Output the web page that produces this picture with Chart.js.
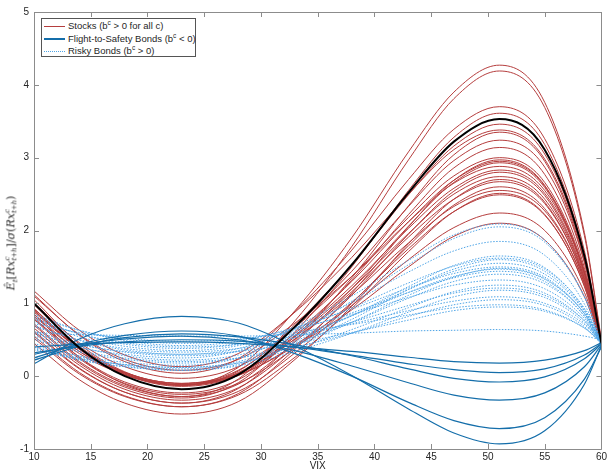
<!DOCTYPE html>
<html>
<head>
<meta charset="utf-8">
<script src="https://cdn.jsdelivr.net/npm/chart.js@4.4.1/dist/chart.umd.min.js"></script>
<style>
  html, body { margin: 0; padding: 0; background: #fff; }
  #wrap { position: relative; width: 609px; height: 473px; font-family: "Liberation Sans", Arial, sans-serif; color: #262626; }
  #ylab { position: absolute; left: 12px; top: 243px; transform: translate(-50%, -50%) rotate(-90deg);
          white-space: nowrap; font-family: "DejaVu Serif", serif; font-size: 11px; }
  #ylab i { font-style: italic; }
  .ss { display: inline-flex; flex-direction: column; vertical-align: middle; font-size: 7px; line-height: 7px; font-style: italic; }
  #legend { position: absolute; left: 41px; top: 18px; width: 153px; height: 37px; border: 1px solid #555; background: #fff; font-size: 9.5px; }
  .row { position: absolute; left: 2px; height: 12px; line-height: 12px; white-space: nowrap; }
  .smp { display: inline-block; width: 21px; vertical-align: middle; margin-right: 3px; }
  .row sup { font-size: 6.5px; vertical-align: 4px; line-height: 0; }
</style>
</head>
<body>
<div id="wrap">
  <canvas id="c" width="609" height="473"></canvas>
  <div id="ylab"><i>Ê</i><sub style="font-size:7px"><i>t</i></sub>[<i>Rx</i><span class="ss"><span>c</span><span>t+h</span></span>]/<i>σ</i>(<i>Rx</i><span class="ss"><span>c</span><span>t+h</span></span>)</div>
  <div id="legend">
    <div class="row" style="top:1px"><span class="smp" style="border-top:1px solid rgb(181,62,62)"></span>Stocks (b<sup>c</sup> &gt; 0 for all c)</div>
    <div class="row" style="top:13.5px"><span class="smp" style="border-top:2px solid rgb(20,110,170)"></span>Flight-to-Safety Bonds (b<sup>c</sup> &lt; 0)</div>
    <div class="row" style="top:26px"><span class="smp" style="border-top:1px dotted rgb(80,165,230)"></span>Risky Bonds (b<sup>c</sup> &gt; 0)</div>
  </div>
</div>
<script>
// VIX sample points (x axis)
const xVix = [10, 14, 18, 23, 28, 33, 38, 43, 47, 51, 55, 58.5, 60];
const xTicks = [10, 15, 20, 25, 30, 35, 40, 45, 50, 55, 60];
const yTicks = [-1, 0, 1, 2, 3, 4, 5];

// highlighted (black) curve
const blackCurve = [1.00, 0.39, 0.00, -0.18, 0.02, 0.68, 1.53, 2.52, 3.22, 3.53, 3.11, 1.65, 0.45];

// stocks (b^c > 0)
const stockCurves = [
  [1.05, 0.44, 0.06, -0.12, 0.12, 0.90, 1.90, 3.08, 3.90, 4.27, 3.76, 1.97, 0.50],
  [0.85, 0.26, -0.11, -0.28, -0.04, 0.76, 1.78, 2.97, 3.81, 4.19, 3.69, 1.93, 0.48],
  [1.12, 0.56, 0.20, 0.04, 0.24, 0.89, 1.73, 2.70, 3.39, 3.70, 3.26, 1.72, 0.45],
  [0.70, 0.18, -0.15, -0.30, -0.09, 0.61, 1.50, 2.55, 3.28, 3.61, 3.18, 1.66, 0.42],
  [0.98, 0.41, 0.05, -0.12, 0.07, 0.71, 1.53, 2.49, 3.16, 3.46, 3.05, 1.63, 0.46],
  [1.17, 0.63, 0.29, 0.13, 0.31, 0.88, 1.63, 2.50, 3.11, 3.38, 2.98, 1.61, 0.47],
  [0.62, 0.11, -0.22, -0.37, -0.17, 0.49, 1.35, 2.34, 3.04, 3.35, 2.95, 1.57, 0.43],
  [0.92, 0.39, 0.05, -0.10, 0.08, 0.68, 1.44, 2.33, 2.96, 3.24, 2.87, 1.56, 0.48],
  [0.80, 0.26, -0.08, -0.23, -0.05, 0.55, 1.32, 2.22, 2.86, 3.14, 2.77, 1.49, 0.44],
  [1.00, 0.46, 0.13, -0.03, 0.13, 0.67, 1.37, 2.18, 2.75, 3.00, 2.66, 1.45, 0.46],
  [0.55, 0.05, -0.27, -0.42, -0.24, 0.37, 1.14, 2.05, 2.69, 2.97, 2.62, 1.41, 0.41],
  [0.90, 0.37, 0.03, -0.12, 0.05, 0.59, 1.30, 2.12, 2.69, 2.95, 2.61, 1.43, 0.45],
  [0.72, 0.20, -0.13, -0.28, -0.11, 0.47, 1.20, 2.06, 2.66, 2.93, 2.59, 1.41, 0.43],
  [1.10, 0.57, 0.23, 0.08, 0.23, 0.73, 1.37, 2.12, 2.65, 2.88, 2.55, 1.42, 0.48],
  [0.85, 0.34, 0.02, -0.13, 0.03, 0.56, 1.24, 2.03, 2.58, 2.83, 2.51, 1.38, 0.46],
  [0.66, 0.15, -0.18, -0.33, -0.16, 0.40, 1.11, 1.95, 2.54, 2.80, 2.48, 1.35, 0.42],
  [0.78, 0.31, 0.02, -0.12, 0.03, 0.54, 1.20, 1.96, 2.50, 2.74, 2.43, 1.34, 0.45],
  [0.45, -0.05, -0.37, -0.52, -0.35, 0.23, 0.96, 1.82, 2.43, 2.70, 2.39, 1.30, 0.40],
  [0.93, 0.37, 0.02, -0.14, 0.01, 0.51, 1.16, 1.91, 2.43, 2.67, 2.37, 1.32, 0.46],
  [0.60, 0.10, -0.22, -0.37, -0.21, 0.32, 1.00, 1.79, 2.35, 2.60, 2.30, 1.27, 0.42],
  [0.88, 0.37, 0.05, -0.10, 0.04, 0.51, 1.12, 1.83, 2.33, 2.55, 2.27, 1.28, 0.47],
  [0.52, 0.03, -0.28, -0.42, -0.26, 0.26, 0.93, 1.71, 2.26, 2.51, 2.22, 1.23, 0.41],
  [0.78, 0.24, -0.10, -0.25, -0.10, 0.39, 1.01, 1.75, 2.26, 2.49, 2.21, 1.24, 0.44],
  [0.90, 0.37, 0.03, -0.12, 0.01, 0.43, 0.97, 1.60, 2.04, 2.24, 2.00, 1.15, 0.46],
  [0.82, 0.34, 0.04, -0.10, 0.02, 0.41, 0.91, 1.50, 1.92, 2.10, 1.87, 1.09, 0.44],
];

// risky bonds (b^c > 0)
const riskyCurves = [
  [0.55, 0.39, 0.30, 0.25, 0.35, 0.68, 1.10, 1.59, 1.94, 2.09, 1.87, 1.09, 0.45],
  [0.42, 0.28, 0.19, 0.15, 0.25, 0.59, 1.03, 1.53, 1.89, 2.05, 1.84, 1.09, 0.47],
  [0.70, 0.49, 0.36, 0.30, 0.38, 0.66, 1.01, 1.43, 1.72, 1.85, 1.66, 0.99, 0.44],
  [0.40, 0.25, 0.16, 0.12, 0.20, 0.48, 0.83, 1.23, 1.52, 1.65, 1.49, 0.92, 0.46],
  [0.75, 0.54, 0.41, 0.35, 0.42, 0.65, 0.94, 1.28, 1.51, 1.62, 1.47, 0.93, 0.48],
  [0.38, 0.22, 0.13, 0.08, 0.16, 0.43, 0.78, 1.19, 1.47, 1.60, 1.44, 0.90, 0.45],
  [0.60, 0.40, 0.28, 0.22, 0.29, 0.53, 0.83, 1.19, 1.44, 1.55, 1.40, 0.89, 0.46],
  [0.85, 0.63, 0.49, 0.42, 0.48, 0.67, 0.92, 1.21, 1.41, 1.50, 1.36, 0.86, 0.45],
  [0.45, 0.27, 0.15, 0.10, 0.18, 0.42, 0.74, 1.11, 1.36, 1.48, 1.34, 0.86, 0.46],
  [0.62, 0.44, 0.33, 0.28, 0.34, 0.56, 0.83, 1.15, 1.37, 1.47, 1.33, 0.86, 0.47],
  [0.80, 0.58, 0.44, 0.38, 0.44, 0.63, 0.87, 1.15, 1.35, 1.44, 1.30, 0.82, 0.43],
  [0.50, 0.33, 0.23, 0.18, 0.25, 0.46, 0.74, 1.07, 1.30, 1.40, 1.27, 0.83, 0.46],
  [0.82, 0.63, 0.51, 0.45, 0.50, 0.65, 0.85, 1.08, 1.25, 1.32, 1.20, 0.79, 0.45],
  [0.36, 0.24, 0.16, 0.12, 0.18, 0.38, 0.64, 0.94, 1.16, 1.25, 1.14, 0.76, 0.44],
  [0.68, 0.50, 0.38, 0.33, 0.38, 0.53, 0.74, 0.97, 1.14, 1.21, 1.11, 0.76, 0.47],
  [0.40, 0.23, 0.13, 0.08, 0.14, 0.34, 0.59, 0.88, 1.09, 1.18, 1.08, 0.73, 0.44],
  [0.78, 0.58, 0.46, 0.40, 0.44, 0.56, 0.72, 0.90, 1.03, 1.09, 1.00, 0.71, 0.46],
  [0.52, 0.35, 0.25, 0.20, 0.25, 0.40, 0.59, 0.82, 0.98, 1.05, 0.97, 0.68, 0.44],
  [0.72, 0.60, 0.52, 0.48, 0.51, 0.60, 0.71, 0.84, 0.94, 0.98, 0.91, 0.66, 0.45],
  [0.58, 0.43, 0.34, 0.30, 0.34, 0.45, 0.60, 0.77, 0.90, 0.95, 0.89, 0.66, 0.47],
  [0.60, 0.57, 0.56, 0.55, 0.55, 0.57, 0.59, 0.62, 0.63, 0.64, 0.62, 0.55, 0.50],
];

// flight-to-safety bonds (b^c < 0)
const ftsCurves = [
  [0.17, 0.51, 0.72, 0.82, 0.73, 0.41, 0.01, -0.45, -0.78, -0.93, -0.75, -0.11, 0.42],
  [0.25, 0.44, 0.56, 0.62, 0.55, 0.31, 0.00, -0.36, -0.61, -0.72, -0.57, -0.04, 0.40],
  [0.30, 0.43, 0.51, 0.55, 0.50, 0.35, 0.14, -0.09, -0.26, -0.33, -0.23, 0.13, 0.43],
  [0.32, 0.41, 0.47, 0.50, 0.48, 0.40, 0.29, 0.17, 0.09, 0.05, 0.10, 0.29, 0.45],
  [0.40, 0.44, 0.46, 0.47, 0.45, 0.40, 0.34, 0.26, 0.20, 0.18, 0.22, 0.35, 0.46],
  [0.22, 0.41, 0.53, 0.58, 0.54, 0.43, 0.28, 0.10, -0.03, -0.08, -0.01, 0.24, 0.44],
];

const RED = 'rgb(181,62,62)';
const BLUE = 'rgb(20,110,170)';
const LIGHT = 'rgb(80,165,230)';

function curve(vals, color, width, dash, order) {
  return {
    data: vals.map((v, i) => ({ x: xVix[i], y: v })),
    borderColor: color,
    borderWidth: width,
    borderDash: dash,
    order,
    pointRadius: 0,
    fill: false,
    cubicInterpolationMode: 'monotone',
  };
}

const datasets = [];
stockCurves.forEach(c => datasets.push(curve(c, RED, 1, [], 4)));
riskyCurves.forEach(c => datasets.push(curve(c, LIGHT, 1, [1.5, 1.5], 3)));
ftsCurves.forEach(c => datasets.push(curve(c, BLUE, 1.2, [], 2)));
datasets.push(curve(blackCurve, '#000', 2, [], 1));

// matlab-style box with inward ticks on all four sides
const boxTicks = {
  id: 'boxTicks',
  afterDraw(chart) {
    const { ctx, chartArea: a, scales: { x, y } } = chart;
    ctx.save();
    ctx.strokeStyle = '#8c8c8c';
    ctx.lineWidth = 1;
    ctx.beginPath();
    xTicks.forEach(v => {
      const px = Math.round(x.getPixelForValue(v)) + 0.5;
      ctx.moveTo(px, a.bottom); ctx.lineTo(px, a.bottom - 5);
      ctx.moveTo(px, a.top); ctx.lineTo(px, a.top + 5);
    });
    yTicks.forEach(v => {
      const py = Math.round(y.getPixelForValue(v)) + 0.5;
      ctx.moveTo(a.left, py); ctx.lineTo(a.left + 5, py);
      ctx.moveTo(a.right, py); ctx.lineTo(a.right - 5, py);
    });
    ctx.rect(Math.round(a.left) + 0.5, Math.round(a.top) + 0.5, Math.round(a.right - a.left), Math.round(a.bottom - a.top));
    ctx.stroke();
    ctx.restore();
  }
};

Chart.defaults.font.family = '"Liberation Sans", Arial, sans-serif';
Chart.defaults.font.size = 10;
Chart.defaults.color = '#262626';

new Chart(document.getElementById('c'), {
  type: 'line',
  data: { datasets },
  options: {
    responsive: false,
    animation: false,
    devicePixelRatio: 1,
    layout: { padding: { top: 12, right: 6, left: 0, bottom: 0 } },
    plugins: { legend: { display: false }, tooltip: { enabled: false } },
    scales: {
      x: {
        type: 'linear', min: 10, max: 60,
        afterBuildTicks: s => { s.ticks = xTicks.map(v => ({ value: v })); },
        afterFit: s => { s.height = 24; },
        grid: { display: false, drawTicks: false },
        border: { display: false },
        ticks: { padding: 2, maxRotation: 0, autoSkip: false },
        title: { display: true, text: 'VIX', padding: { top: 0, bottom: 1 }, font: { size: 10 } },
      },
      y: {
        type: 'linear', min: -1, max: 5,
        afterBuildTicks: s => { s.ticks = yTicks.map(v => ({ value: v })); },
        afterFit: s => { s.width = 34; },
        grid: { display: false, drawTicks: false },
        border: { display: false },
        ticks: { padding: 5, autoSkip: false },
      },
    },
  },
  plugins: [boxTicks],
});
</script>
</body>
</html>
